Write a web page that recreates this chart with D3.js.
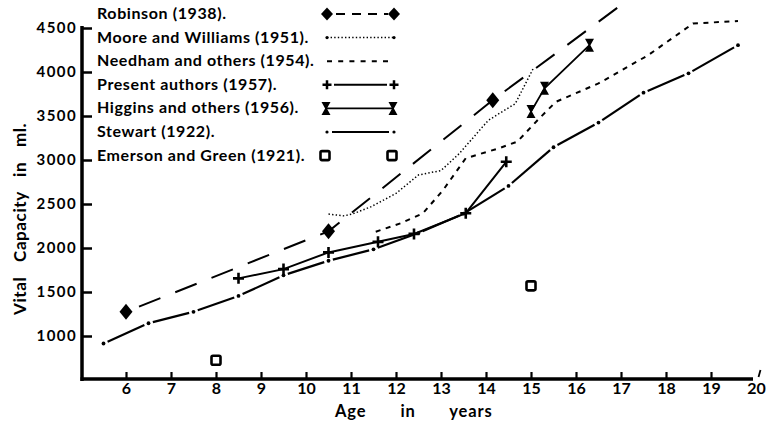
<!DOCTYPE html>
<html><head><meta charset="utf-8">
<script src="https://cdn.jsdelivr.net/npm/d3@7"></script>
<style>
html,body{margin:0;padding:0;background:#fff;}
svg{display:block;background:#fff;}
text{font-family:Lato,"DejaVu Sans",sans-serif;fill:#000;}
</style></head><body>
<svg id="chart" width="783" height="423"></svg>
<script>
// ---- data (age in years, vital capacity in ml) ----
const xTicks = [6,7,8,9,10,11,12,13,14,15,16,17,18,19,20];
const yTicks = [1000,1500,2000,2500,3000,3500,4000,4500];
const legendLabels = [
  "Robinson (1938).",
  "Moore and Williams (1951).",
  "Needham and others (1954).",
  "Present authors (1957).",
  "Higgins and others (1956).",
  "Stewart (1922).",
  "Emerson and Green (1921)."
];
const robinson = [[6,1275],[10.5,2190],[14.15,3680],[17.5,4950]];
const moore = [[10.5,2385],[10.85,2365],[11.05,2390],[11.45,2470],[12.0,2620],[12.5,2830],[13.0,2880],[13.4,3070],[14.05,3450],[14.3,3530],[14.65,3640],[15.05,4040]];
const needham = [[11.55,2185],[12.1,2280],[12.6,2395],[13.05,2660],[13.55,3020],[14.3,3135],[14.7,3210],[15.15,3455],[15.55,3660],[16.5,3870],[17.6,4190],[18.6,4550],[19.6,4580]];
const present = [[8.5,1655],[9.5,1760],[10.5,1950],[11.6,2070],[12.4,2160],[13.55,2395],[14.45,2980]];
const higgins = [[15.0,3550],[15.3,3815],[16.3,4305]];
const stewart = [[5.5,915],[6.5,1145],[7.5,1275],[8.5,1455],[9.5,1690],[10.5,1855],[11.5,1985],[12.5,2170],[13.5,2390],[14.5,2705],[15.5,3145],[16.5,3425],[17.5,3765],[18.5,3985],[19.6,4305]];
const emerson = [[8,725],[15,1570]];

// ---- scales ----
const svg = d3.select("#chart");
const x = d3.scaleLinear().domain([5,20]).range([81,756]);
const y = d3.scaleLinear().domain([500,4500]).range([380,28]);
const line = d3.line().x(d=>x(d[0])).y(d=>y(d[1]));

// shapes
const diamondPath = "M0,-8L6.5,0L0,8L-6.5,0Z";
const hourglassPath = "M-4.5,-6.5L4.5,-6.5L0.9,0L4.5,6.5L-4.5,6.5L-0.9,0Z";
const plusPath = "M-5.5,0H5.5M0,-5.5V5.5";

// ---- axes ----
const yAxis = d3.axisLeft(y).tickValues(yTicks).tickSizeInner(-10).tickSizeOuter(0).tickPadding(5).tickFormat(d3.format("d"));
const gy = svg.append("g").attr("transform","translate(82,0)").call(yAxis);
gy.select(".domain").remove();
gy.selectAll(".tick line").attr("stroke","#000").attr("stroke-width",2.5);
gy.selectAll(".tick text").attr("font-size",15).attr("font-weight",700).attr("letter-spacing",1.4).attr("font-family","Lato");
svg.append("line").attr("x1",82).attr("x2",82).attr("y1",y(4500)-2).attr("y2",381).attr("stroke","#000").attr("stroke-width",3.5);

const xAxis = d3.axisBottom(x).tickValues(xTicks).tickSizeInner(-7).tickSizeOuter(0).tickPadding(4).tickFormat(d3.format("d"));
const gx = svg.append("g").attr("transform","translate(0,379)").call(xAxis);
gx.select(".domain").remove();
gx.selectAll(".tick line").attr("stroke","#000").attr("stroke-width",2.2);
gx.selectAll(".tick").filter(d=>d===20).select("line").attr("x1",2).attr("x2",4).attr("y1",-2).attr("y2",-9).attr("stroke-width",1.8);
gx.selectAll(".tick text").attr("font-size",16).attr("font-weight",700).attr("font-family","Lato");
svg.append("line").attr("x1",80.5).attr("x2",753).attr("y1",379).attr("y2",379).attr("stroke","#000").attr("stroke-width",3.5);

// axis titles
svg.append("text").attr("transform","translate(26,315) rotate(-90)")
  .attr("font-size",17).attr("font-weight",700).attr("word-spacing",10).attr("letter-spacing",0.6)
  .text("Vital Capacity in ml.");
svg.append("text").attr("x",335).attr("y",416.5)
  .attr("font-size",16.5).attr("font-weight",700).attr("word-spacing",29).attr("letter-spacing",0.9)
  .text("Age in years");

// ---- series ----
const plot = svg.append("g");
// Robinson
plot.append("path").datum(robinson).attr("d",line).attr("fill","none").attr("stroke","#000")
  .attr("stroke-width",2).attr("stroke-dasharray","23,16").attr("stroke-dashoffset",25);
plot.selectAll(".rob").data(robinson.filter(d=>d[1]<=4500)).join("path").attr("class","rob")
  .attr("d",diamondPath).attr("transform",d=>`translate(${x(d[0])},${y(d[1])})`).attr("fill","#000");
// Moore and Williams (dotted)
plot.append("path").datum(moore).attr("d",line).attr("fill","none").attr("stroke","#000")
  .attr("stroke-width",1.5).attr("stroke-dasharray","1.4,2.2");
// Needham (short dashes)
plot.append("path").datum(needham).attr("d",line).attr("fill","none").attr("stroke","#000")
  .attr("stroke-width",2).attr("stroke-dasharray","5,5.5");
// Stewart (dash-dot: segments with dots at points)
const gap = 4.5;
const segs = d3.pairs(stewart).map(([a,b])=>{
  const x1=x(a[0]),y1=y(a[1]),x2=x(b[0]),y2=y(b[1]);
  const L=Math.hypot(x2-x1,y2-y1), ux=(x2-x1)/L, uy=(y2-y1)/L;
  return [x1+ux*gap,y1+uy*gap,x2-ux*gap,y2-uy*gap];
});
plot.selectAll(".stw").data(segs).join("line").attr("class","stw")
  .attr("x1",d=>d[0]).attr("y1",d=>d[1]).attr("x2",d=>d[2]).attr("y2",d=>d[3])
  .attr("stroke","#000").attr("stroke-width",2.2);
plot.selectAll(".stwd").data(stewart).join("circle").attr("class","stwd")
  .attr("cx",d=>x(d[0])).attr("cy",d=>y(d[1])).attr("r",1.9).attr("fill","#000");
// Present authors
plot.append("path").datum(present).attr("d",line).attr("fill","none").attr("stroke","#000").attr("stroke-width",2);
plot.selectAll(".pre").data(present).join("path").attr("class","pre")
  .attr("d",plusPath).attr("transform",d=>`translate(${x(d[0])},${y(d[1])})`)
  .attr("stroke","#000").attr("stroke-width",2.6).attr("fill","none");
// Higgins
plot.append("path").datum(higgins).attr("d",line).attr("fill","none").attr("stroke","#000").attr("stroke-width",1.8);
plot.selectAll(".hig").data(higgins).join("path").attr("class","hig")
  .attr("d",hourglassPath).attr("transform",d=>`translate(${x(d[0])},${y(d[1])})`).attr("fill","#000");
// Emerson and Green
plot.selectAll(".eme").data(emerson).join("rect").attr("class","eme")
  .attr("x",d=>x(d[0])-4.5).attr("y",d=>y(d[1])-4.5).attr("width",9).attr("height",9).attr("rx",1.5)
  .attr("fill","#fff").attr("stroke","#000").attr("stroke-width",2.6);

// ---- legend ----
const lg = svg.append("g");
const rowY = i => 19 + i*23.6;
lg.selectAll("text").data(legendLabels).join("text")
  .attr("x",97).attr("y",(d,i)=>rowY(i)).attr("font-size",16).attr("font-weight",700).attr("letter-spacing",0.6)
  .text(d=>d);
const L1=327, L2=394;
const cy = i => rowY(i)-5;
// 0 Robinson
lg.append("line").attr("x1",L1+6).attr("x2",L2-6).attr("y1",cy(0)).attr("y2",cy(0)).attr("stroke","#000").attr("stroke-width",2).attr("stroke-dasharray","9,7").attr("stroke-dashoffset",-3);
[L1,L2].forEach(px=>lg.append("path").attr("d","M0,-6.5L6,0L0,6.5L-6,0Z").attr("transform",`translate(${px},${cy(0)})`).attr("fill","#000"));
// 1 Moore
lg.append("line").attr("x1",L1).attr("x2",L2).attr("y1",cy(1)).attr("y2",cy(1)).attr("stroke","#000").attr("stroke-width",1.5).attr("stroke-dasharray","1.4,2.2");
[L1,L2].forEach(px=>lg.append("circle").attr("cx",px).attr("cy",cy(1)).attr("r",1.6).attr("fill","#000"));
// 2 Needham
lg.append("line").attr("x1",L1).attr("x2",L2).attr("y1",cy(2)).attr("y2",cy(2)).attr("stroke","#000").attr("stroke-width",2).attr("stroke-dasharray","5,6.2");
// 3 Present
lg.append("line").attr("x1",L1+7).attr("x2",L2-7).attr("y1",cy(3)).attr("y2",cy(3)).attr("stroke","#000").attr("stroke-width",2);
[L1,L2].forEach(px=>lg.append("path").attr("d","M-4.5,0H4.5M0,-4.5V4.5").attr("transform",`translate(${px},${cy(3)})`).attr("stroke","#000").attr("stroke-width",2.5));
// 4 Higgins
lg.append("line").attr("x1",L1).attr("x2",L2).attr("y1",cy(4)).attr("y2",cy(4)).attr("stroke","#000").attr("stroke-width",1.8);
[L1-1,L2-1].forEach(px=>lg.append("path").attr("d",hourglassPath).attr("transform",`translate(${px},${cy(4)})`).attr("fill","#000"));
// 5 Stewart
lg.append("line").attr("x1",L1+5).attr("x2",L2-5).attr("y1",cy(5)).attr("y2",cy(5)).attr("stroke","#000").attr("stroke-width",2.2);
[L1,L2].forEach(px=>lg.append("circle").attr("cx",px).attr("cy",cy(5)).attr("r",1.6).attr("fill","#000"));
// 6 Emerson
[L1-2,L2-2].forEach(px=>lg.append("rect").attr("x",px-4.5).attr("y",cy(6)-4.5).attr("width",9).attr("height",9).attr("rx",1.5).attr("fill","#fff").attr("stroke","#000").attr("stroke-width",2.6));
</script>
</body></html>
